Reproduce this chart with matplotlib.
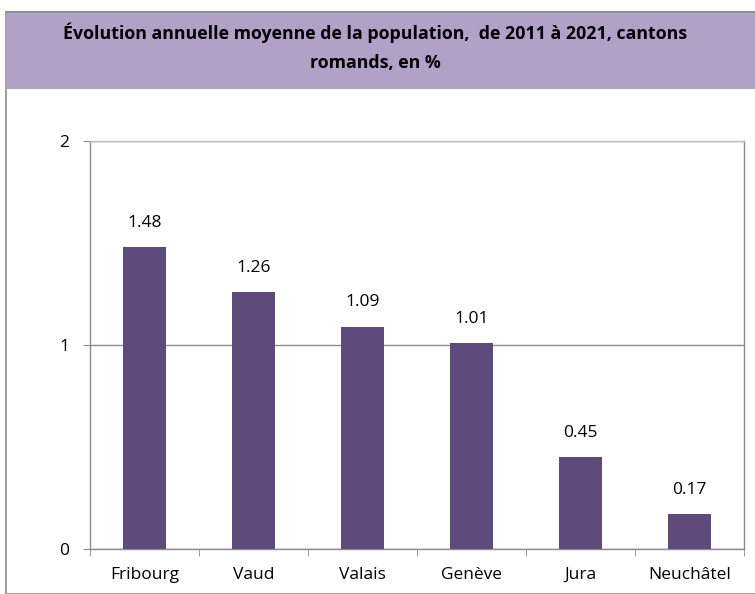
import matplotlib.pyplot as plt
from matplotlib.patches import Rectangle
from matplotlib.lines import Line2D

cantons = ['Fribourg', 'Vaud', 'Valais', 'Genève', 'Jura', 'Neuchâtel']
evolution = [1.48, 1.26, 1.09, 1.01, 0.45, 0.17]
y_ticks = [0, 1, 2]

bar_color = '#5f4b7b'
band_color = '#b1a0c7'
frame_grey = '#8c8c8c'

plt.rcParams['font.family'] = ['Open Sans', 'DejaVu Sans']

W, H = 755, 594
fig = plt.figure(figsize=(W / 100, H / 100), dpi=100)

# outer frame + title band (behind the axes)
fig.add_artist(Rectangle((6 / W, 0), 1, 1 - 12 / H, transform=fig.transFigure,
                         facecolor='white', edgecolor=frame_grey, lw=1.2, zorder=-2))
fig.add_artist(Rectangle((6 / W, 1 - 89 / H), 1, 77 / H, transform=fig.transFigure,
                         facecolor=band_color, edgecolor='none', zorder=-1))
fig.add_artist(Line2D([6 / W, 1], [1 - 12 / H, 1 - 12 / H], transform=fig.transFigure,
                      color=frame_grey, lw=1.2, zorder=-1))
fig.text(375 / W, 1 - 47 / H,
         'Évolution annuelle moyenne de la population,  de 2011 à 2021, cantons\nromands, en %',
         ha='center', va='center', fontsize=12.8, fontweight='bold', linespacing=1.75)

left, right, top, bottom = 90, 744, 141, 549
ax = fig.add_axes([left / W, 1 - bottom / H, (right - left) / W, (bottom - top) / H])
ax.set_zorder(1)

x = range(len(cantons))
ax.bar(x, evolution, width=0.4, color=bar_color, zorder=3)
for i, v in zip(x, evolution):
    ax.text(i, v + 0.1, f'{v:.2f}', ha='center', va='baseline', fontsize=12.5)

ax.set_xlim(-0.5, len(cantons) - 0.5)
ax.set_ylim(0, 2)
ax.set_yticks(y_ticks)
ax.set_yticklabels([str(t) for t in y_ticks], fontsize=12.5)
ax.set_xticks(list(x))
ax.set_xticklabels(cantons, fontsize=12.5)
ax.tick_params(axis='x', length=0, pad=13)
ax.set_xticks([i - 0.5 for i in range(len(cantons) + 1)], minor=True)
ax.tick_params(axis='x', which='minor', length=5, color=frame_grey, direction='out')
ax.tick_params(axis='y', length=5, color=frame_grey, pad=10)
ax.grid(axis='y', color='#8c8c8c', lw=1, zorder=0)
for s in ax.spines.values():
    s.set_color(frame_grey)
    s.set_linewidth(1)
ax.spines['top'].set_color('#c0c0c0')

fig.savefig('out.png', dpi=100)
